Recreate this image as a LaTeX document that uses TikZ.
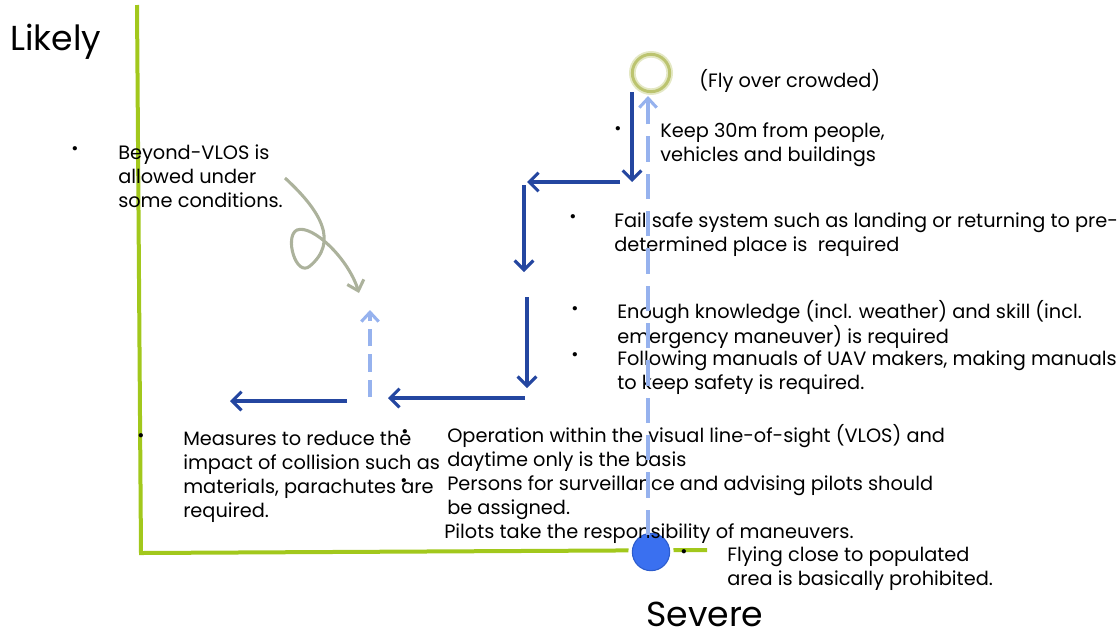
\documentclass[tikz,border=0pt]{standalone}
\usepackage{fontspec}
\setmainfont{Poppins}
\usetikzlibrary{arrows.meta}

\definecolor{axisgreen}{RGB}{162,200,28}
\definecolor{flowblue}{RGB}{36,70,160}
\definecolor{paleblue}{RGB}{150,178,238}
\definecolor{loopgray}{RGB}{172,178,156}
\definecolor{ringolive}{RGB}{188,196,112}
\definecolor{ringhalo}{RGB}{228,232,196}
\definecolor{discblue}{RGB}{58,112,240}
\definecolor{discedge}{RGB}{44,92,205}

\newcommand{\txtlines}[1]{\begin{tabular}[t]{@{}l@{}}#1\end{tabular}}

\begin{document}
\begin{tikzpicture}[x=0.75pt,y=-0.75pt,
  body/.style={anchor=base west, inner sep=0pt, font=\fontsize{14.5}{18}\selectfont},
  axislabel/.style={anchor=base west, inner sep=0pt, font=\fontsize{26}{30}\selectfont},
  dot/.style={inner sep=0pt, font=\fontsize{13}{13}\selectfont},
  axisline/.style={axisgreen, line width=3pt, line join=miter},
  flow/.style={flowblue, line width=2.3pt, -{Straight Barb[length=7pt,width=14pt]}},
  back/.style={paleblue, line width=2.3pt, dash pattern=on 19pt off 9pt, -{Straight Barb[length=7pt,width=13pt]}},
  backshort/.style={paleblue, line width=2.3pt, dash pattern=on 13pt off 6pt, -{Straight Barb[length=7pt,width=13pt]}},
  loop/.style={loopgray, line width=2.3pt, -{Straight Barb[length=7pt,width=13pt]}}]

\useasboundingbox (0,0) rectangle (1119,633);

% axes
\coordinate (ytop) at (137,5);
\coordinate (origin) at (141,553);
\coordinate (xend) at (707,550);
\draw[axisline] (ytop) -- (origin) -- (xend);

% axis labels
\node[axislabel] (likely) at (10,50) {Likely};
\node[axislabel] (severe) at (646,626) {Severe};

% end markers of the scale
\node[circle, draw=ringhalo, line width=5pt, minimum size=28pt, inner sep=0pt] (top) at (651,73) {};
\node[circle, draw=ringolive, line width=2.2pt, minimum size=28pt, inner sep=0pt] (topring) at (651,73) {};
\node[circle, draw=white, line width=5pt, fill=discblue, minimum size=29pt, inner sep=0pt] (bottomhalo) at (651,552) {};
\node[circle, draw=discedge, line width=0.8pt, fill=discblue, minimum size=28pt, inner sep=0pt] (bottom) at (651,552) {};

% waypoints of the flow arrows
\coordinate (a1s) at (632,92);
\coordinate (a1e) at (632,182);
\coordinate (a2s) at (620,182);
\coordinate (a2e) at (527,182);
\coordinate (a3s) at (524,185);
\coordinate (a3e) at (524,272);
\coordinate (a4s) at (527,297);
\coordinate (a4e) at (527,388);
\coordinate (a5s) at (525,398);
\coordinate (a5e) at (388,398);
\coordinate (a6s) at (347,401);
\coordinate (a6e) at (230,401);

\draw[flow] (a1s) -- (a1e);
\draw[flow] (a2s) -- (a2e);
\draw[flow] (a3s) -- (a3e);
\draw[flow] (a4s) -- (a4e);
\draw[flow] (a5s) -- (a5e);
\draw[flow] (a6s) -- (a6e);

% curly arrow
\coordinate (lstart) at (285,178);
\coordinate (lend) at (359,293);
\draw[loop] (lstart) .. controls (322,212) and (338,242) .. (310,266)
  .. controls (296,278) and (284,236) .. (297,230)
  .. controls (312,224) and (348,258) .. (lend);

% short dashed return arrow
\coordinate (rs) at (370,397);
\coordinate (re) at (370,310);
\draw[backshort] (rs) -- (re);

% texts
\node[body] (fly) at (699,87) {(Fly over crowded)};
\node[body] (keep) at (660,137) {\txtlines{Keep 30m from people,\\vehicles and buildings}};
\node[body] (fail) at (614,227) {\txtlines{Fail safe system such as landing or returning to pre-\\determined place is\ \ required}};
\node[body] (know) at (617,318) {\txtlines{Enough knowledge (incl. weather) and skill (incl.\\emergency maneuver) is required}};
\node[body] (manual) at (617,365) {\txtlines{Following manuals of UAV makers, making manuals\\to keep safety is required.}};
\node[body] (bvlos) at (118,159) {\txtlines{Beyond-VLOS is\\allowed under\\some conditions.}};
\node[body] (measure) at (183,445) {\txtlines{Measures to reduce the\\impact of collision such as\\materials, parachutes are\\required.}};
\node[body] (vlos) at (447,442) {\txtlines{Operation within the visual line-of-sight (VLOS) and\\daytime only is the basis\\Persons for surveillance and advising pilots should\\be assigned.}};
\node[body] (pilot) at (444,538) {Pilots take the responsibility of maneuvers.};
\node[body] (close) at (727,561) {\txtlines{Flying close to populated\\area is basically prohibited.}};

% bullets
\node[dot] (b1) at (618,131) {•};
\node[dot] (b2) at (573,219) {•};
\node[dot] (b3) at (575,311) {•};
\node[dot] (b4) at (575,357) {•};
\node[dot] (b5) at (75,151) {•};
\node[dot] (b6) at (141,438) {•};
\node[dot] (b7) at (405,434) {•};
\node[dot] (b8) at (404,483) {•};
\node[dot] (b9) at (684,554) {•};

% long dashed return arrow
\coordinate (ds) at (648,535);
\coordinate (de) at (648,96);
\draw[back] (ds) -- (de);

\end{tikzpicture}
\end{document}
